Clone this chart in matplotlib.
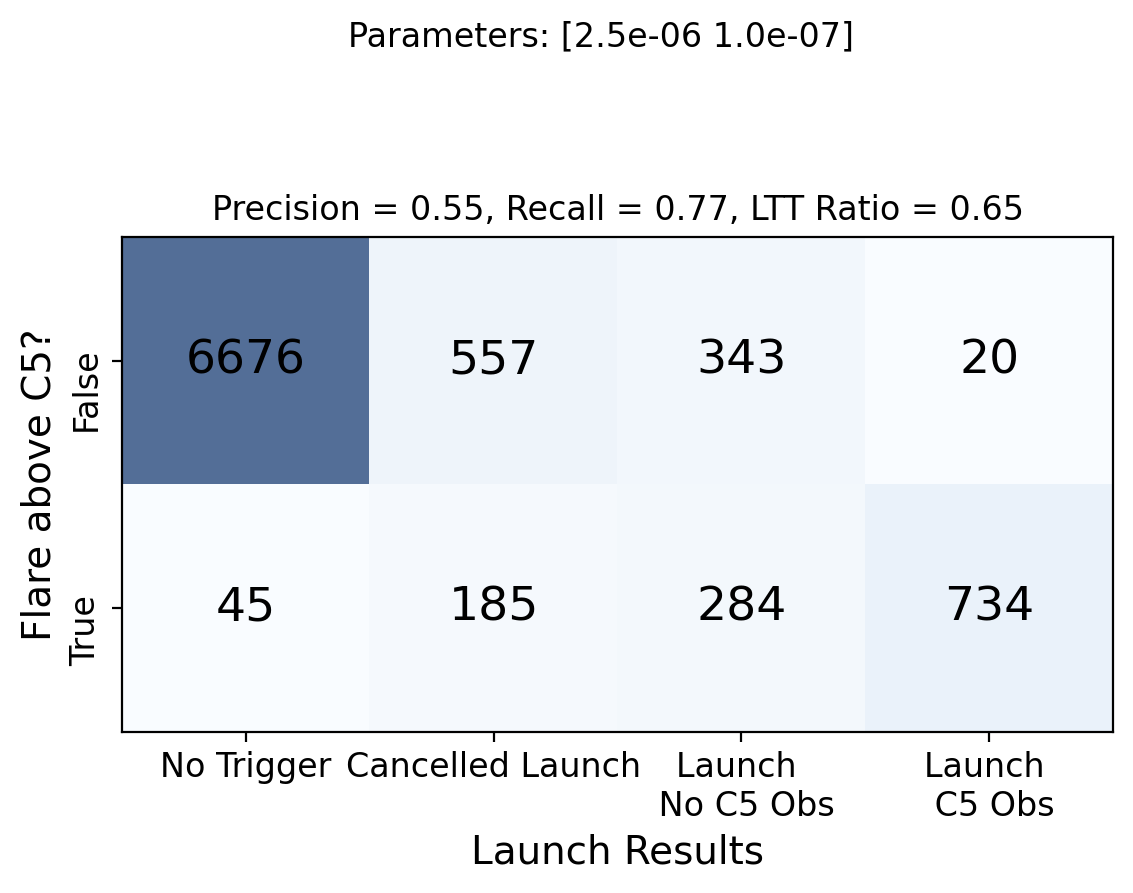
import numpy as np
import matplotlib
matplotlib.use("Agg")
import matplotlib.pyplot as plt

# confusion-matrix style counts
row_labels = ["False", "True"]
col_labels = ["No Trigger", "Cancelled Launch", "Launch \n No C5 Obs", "Launch \n C5 Obs"]
counts_false = [6676, 557, 343, 20]
counts_true = [45, 185, 284, 734]
params_text = "Parameters: [2.5e-06 1.0e-07]"
score_text = "Precision = 0.55, Recall = 0.77, LTT Ratio = 0.65"


def main():
    matrix = np.array([counts_false, counts_true])

    fig = plt.figure(figsize=(1133 / 200, 893 / 200), dpi=200)
    ax = fig.add_axes([122 / 1133, 161 / 893, 991 / 1133, 495 / 893])

    ax.imshow(matrix, cmap="Blues", alpha=0.7, aspect="auto")

    # numbers in each cell
    for i in range(matrix.shape[0]):
        for j in range(matrix.shape[1]):
            ax.text(j, i, str(matrix[i, j]), ha="center", va="center", fontsize=17)

    ax.set_xticks(range(len(col_labels)))
    ax.set_xticklabels(col_labels, fontsize=12)
    ax.set_yticks(range(len(row_labels)))
    ax.set_yticklabels(row_labels, fontsize=12, rotation=90)
    ax.set_xlabel("Launch Results", fontsize=14)
    ax.set_ylabel("Flare above C5?", fontsize=14)
    ax.set_title(score_text, fontsize=12)
    fig.suptitle(params_text, fontsize=12, x=601 / 1133, y=1 - 37 / 893, va="center")

    fig.savefig("out.png", dpi=200)
    plt.close(fig)


if __name__ == "__main__":
    main()
